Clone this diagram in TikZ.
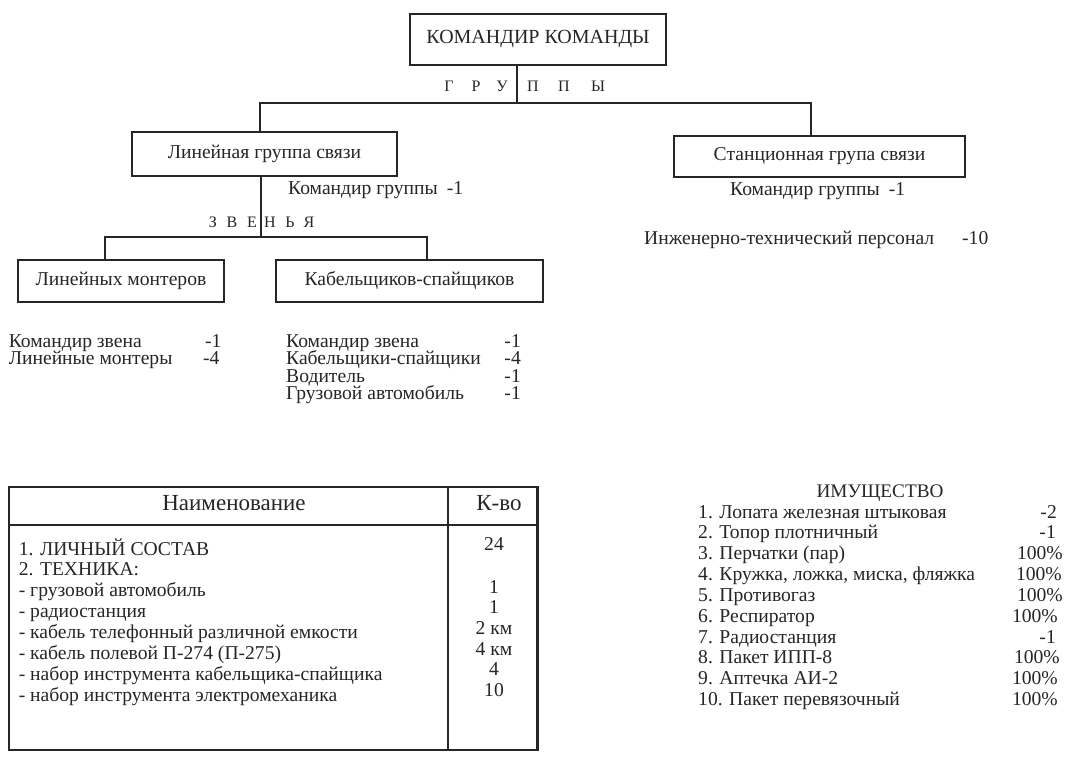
\documentclass[tikz,border=0pt]{standalone}
\usepackage{fontspec}
\setmainfont{Liberation Serif}
\definecolor{ink}{HTML}{262626}
\newcommand\myfs[1]{\fontsize{#1}{#1}\selectfont}
\begin{document}
\begin{tikzpicture}[x=1pt,y=-1pt,
  box/.style={draw=ink, line width=2.5pt, inner sep=0pt, text=ink, font=\myfs{19.6}},
  wire/.style={draw=ink, line width=2.2pt},
  txt/.style={inner sep=0pt, text=ink, font=\myfs{19.6}, anchor=base west},
  txtr/.style={inner sep=0pt, text=ink, font=\myfs{19.6}, anchor=base east},
  txtc/.style={inner sep=0pt, text=ink, font=\myfs{19.6}, anchor=base},
  lett/.style={inner sep=0pt, text=ink, font=\myfs{16}, anchor=base}]
\fill[white] (0,0) rectangle (1080,760);
\useasboundingbox (0,0) rectangle (1080,760);

% boxes
\node[box, font=\myfs{20}, minimum width=256pt, minimum height=51pt] (top) at (538,39.5) {КОМАНДИР КОМАНДЫ};
\node[box, minimum width=265pt, minimum height=44pt] (lin) at (264.5,154) {Линейная группа связи};
\node[box, minimum width=291pt, minimum height=41pt] (sta) at (819.5,156.5) {Станционная групa связи};
\node[box, minimum width=206pt, minimum height=42pt] (mon) at (121,281) {Линейных монтеров};
\node[box, minimum width=267pt, minimum height=42pt] (kab) at (409.5,281) {Кабельщиков-спайщиков};

% connectors
\coordinate (gm) at (517,103);
\coordinate (gl) at (260,103);
\coordinate (gr) at (811,103);
\draw[wire] (top.south -| gm) -- (gm);
\draw[wire] (lin.north -| gl) -- (gl) -- (gr) -- (sta.north -| gr);
\coordinate (zm) at (261,237);
\coordinate (zl) at (105,237);
\coordinate (zr) at (427,237);
\draw[wire] (lin.south -| zm) -- (zm);
\draw[wire] (mon.north -| zl) -- (zl) -- (zr) -- (kab.north -| zr);

% spaced letters
\node[lett] (g1) at (449,92) {Г};
\node[lett] (g2) at (476,92) {Р};
\node[lett] (g3) at (502,92) {У};
\node[lett] (g4) at (533,92) {П};
\node[lett] (g5) at (564,92) {П};
\node[lett] (g6) at (598,92) {Ы};
\node[lett] (z1) at (213,227) {З};
\node[lett] (z2) at (232,227) {В};
\node[lett] (z3) at (252,227) {Е};
\node[lett] (z4) at (270,227) {Н};
\node[lett] (z5) at (290,227) {Ь};
\node[lett] (z6) at (309,227) {Я};

% group commanders
\node[txt] (kg1) at (288,194) {Командир группы\hspace{9pt}-1};
\node[txt] (kg2) at (730,195) {Командир группы\hspace{9pt}-1};
\node[txt] (itp) at (644,244) {Инженерно-технический персонал};
\node[txt] (itpn) at (962,244) {-10};

% links lists
\node[txt] (l1) at (8.6,347) {Командир звена};
\node[txt] (l1n) at (205,347) {-1};
\node[txt] (l2) at (8.6,364.5) {Линейные монтеры};
\node[txt] (l2n) at (203,364.5) {-4};
\node[txt] (k1) at (286,347) {Командир звена};
\node[txtr] (k1n) at (521,347) {-1};
\node[txt] (k2) at (286,364.5) {Кабельщики-спайщики};
\node[txtr] (k2n) at (521,364.5) {-4};
\node[txt] (k3) at (286,382) {Водитель};
\node[txtr] (k3n) at (521,382) {-1};
\node[txt] (k4) at (286,399.5) {Грузовой автомобиль};
\node[txtr] (k4n) at (521,399.5) {-1};

% table
\draw[draw=ink, line width=2.5pt] (9,487) rectangle (537.5,750);
\draw[draw=ink, line width=2.5pt] (9,525) -- (537.5,525);
\draw[draw=ink, line width=2.5pt] (448,487) -- (448,750);
\node[txtc, font=\myfs{23}] (th1) at (234,510) {Наименование};
\node[txtc, font=\myfs{23}] (th2) at (499,510) {К-во};
\foreach \t [count=\i, evaluate=\i as \yy using {555+20.9*(\i-1)}] in
  {1. ЛИЧНЫЙ СОСТАВ, 2. ТЕХНИКА:, - грузовой автомобиль, - радиостанция,
   - кабель телефонный различной емкости, - кабель полевой П-274 (П-275),
   - набор инструмента кабельщика-спайщика, - набор инструмента электромеханика}
  \node[txt] (tr\i) at (18.6,\yy) {\t};
\node[txtc] (tq1) at (494,550) {24};
\node[txtc] (tq2) at (494,593) {1};
\node[txtc] (tq3) at (494,613) {1};
\node[txtc] (tq4) at (494,634) {2 км};
\node[txtc] (tq5) at (494,655) {4 км};
\node[txtc] (tq6) at (494,675) {4};
\node[txtc] (tq7) at (494,696) {10};

% property list
\node[txtc, font=\myfs{19.2}] (imh) at (880,497) {ИМУЩЕСТВО};
\foreach \t [count=\i, evaluate=\i as \yy using {518+20.85*(\i-1)}] in
  {1. Лопата железная штыковая, 2. Топор плотничный, 3. Перчатки (пар),
   {4. Кружка, ложка, миска, фляжка}, 5. Противогаз, 6. Респиратор,
   7. Радиостанция, 8. Пакет ИПП-8, 9. Аптечка АИ-2, 10. Пакет перевязочный}
  \node[txt] (im\i) at (698,\yy) {\t};
\foreach \v/\xe [count=\i, evaluate=\i as \yy using {518+20.85*(\i-1)}] in
  {-2/1057, -1/1056, 100\%/1063, 100\%/1062, 100\%/1063, 100\%/1058,
   -1/1056, 100\%/1060, 100\%/1058, 100\%/1058}
  \node[txtr] (iv\i) at (\xe,\yy) {\v};
\end{tikzpicture}
\end{document}
